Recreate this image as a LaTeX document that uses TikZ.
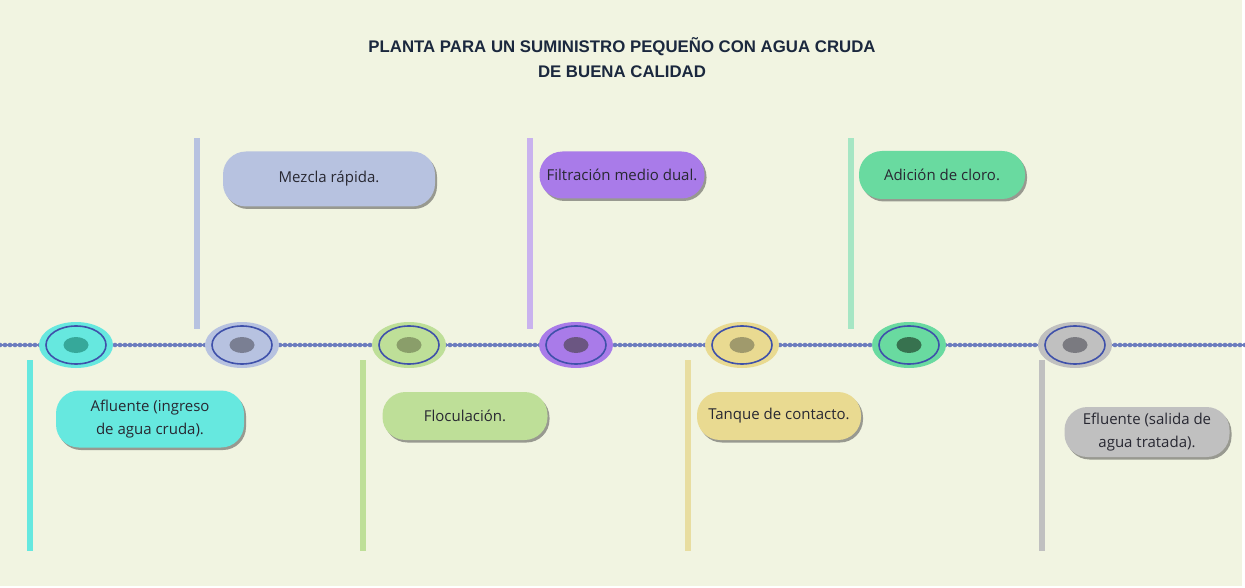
\documentclass[tikz,border=0pt]{standalone}
\usepackage{fontspec}
\setmainfont{Open Sans}
\newfontfamily\titlefont{Liberation Sans}
\usepackage{tikz}
\usetikzlibrary{shapes.geometric, shadows, backgrounds}
\usepackage{xcolor}
\definecolor{PageBg}{RGB}{241, 244, 225}
\definecolor{TitleNavy}{RGB}{27, 40, 62}
\definecolor{LineBlue}{RGB}{108, 124, 190}
\definecolor{RingBlue}{RGB}{63, 81, 170}
\definecolor{TextDark}{RGB}{40, 40, 50}
\definecolor{AfluenteFill}{RGB}{102, 232, 223}
\definecolor{AfluenteDot}{RGB}{54, 168, 154}
\definecolor{MezclaFill}{RGB}{183, 194, 224}
\definecolor{MezclaDot}{RGB}{122, 127, 147}
\definecolor{FloculFill}{RGB}{190, 223, 152}
\definecolor{FloculDot}{RGB}{138, 158, 106}
\definecolor{FiltroFill}{RGB}{169, 123, 233}
\definecolor{FiltroDot}{RGB}{107, 86, 130}
\definecolor{FiltroBar}{RGB}{201, 178, 238}
\definecolor{TanqueFill}{RGB}{233, 218, 145}
\definecolor{TanqueDot}{RGB}{160, 154, 108}
\definecolor{TanqueBar}{RGB}{232, 221, 160}
\definecolor{CloroFill}{RGB}{105, 218, 160}
\definecolor{CloroDot}{RGB}{55, 114, 79}
\definecolor{CloroBar}{RGB}{166, 230, 196}
\definecolor{EfluenteFill}{RGB}{192, 192, 192}
\definecolor{EfluenteDot}{RGB}{122, 122, 128}

\begin{document}
\begin{tikzpicture}[
    x=1pt, y=-1pt,
    box/.style={draw=none, rounded corners=23pt, fill=#1, align=center, inner xsep=2pt, minimum width=165pt, minimum height=48pt, text=TextDark, font=\fontsize{15}{23}\selectfont, drop shadow={shadow xshift=2pt, shadow yshift=-2.5pt, opacity=0.5, fill=black!75}},
    bar/.style={fill=#1, inner sep=0pt, minimum width=6pt, minimum height=191pt},
    stop/.style 2 args={ellipse, fill=#1, inner sep=0pt, minimum width=74pt, minimum height=46pt, path picture={
        \draw[RingBlue, line width=1.6pt] (path picture bounding box.center) ellipse (30pt and 19pt);
        \fill[#2] (path picture bounding box.center) ellipse (12.5pt and 8pt);}},
    beadline/.style={draw=LineBlue, line width=4.6pt, line cap=round, dash pattern=on 0pt off 5pt, preaction={draw=LineBlue, line width=1.4pt, solid}}
]
\useasboundingbox (0,0) rectangle (1245,588);
\fill[PageBg] (0,0) rectangle (1242,586);
\node[font=\titlefont\bfseries\fontsize{16.8}{25}\selectfont, text=TitleNavy, align=center] (title) at (622,58) {PLANTA PARA UN SUMINISTRO PEQUEÑO CON AGUA CRUDA\\DE BUENA CALIDAD};
% timeline
\coordinate (lineL) at (0,345);
\coordinate (lineR) at (1245,345);
\draw[beadline] (lineL) -- (lineR);
\node[stop={AfluenteFill}{AfluenteDot}] (s1) at (76,345) {};
\node[stop={MezclaFill}{MezclaDot}] (s2) at (242,345) {};
\node[stop={FloculFill}{FloculDot}] (s3) at (409,345) {};
\node[stop={FiltroFill}{FiltroDot}] (s4) at (576,345) {};
\node[stop={TanqueFill}{TanqueDot}] (s5) at (742,345) {};
\node[stop={CloroFill}{CloroDot}] (s6) at (909,345) {};
\node[stop={EfluenteFill}{EfluenteDot}] (s7) at (1075,345) {};
% bars
\node[bar=AfluenteFill, anchor=north] (bar1) at (30,360) {};
\node[bar=MezclaFill, anchor=south] (bar2) at (197,329) {};
\node[bar=FloculFill, anchor=north] (bar3) at (363,360) {};
\node[bar=FiltroBar, anchor=south] (bar4) at (530,329) {};
\node[bar=TanqueBar, anchor=north] (bar5) at (688,360) {};
\node[bar=CloroBar, anchor=south] (bar6) at (851,329) {};
\node[bar=EfluenteFill, anchor=north] (bar7) at (1042,360) {};
% labels
\node[box=AfluenteFill, minimum width=188pt, minimum height=57pt] (afluente) at (150,419) {Afluente (ingreso\\de agua cruda).};
\node[box=MezclaFill, minimum width=212pt, minimum height=55pt] (mezcla) at (329,179) {Mezcla rápida.};
\node[box=FloculFill] (floculacion) at (465,416) {Floculación.};
\node[box=FiltroFill, minimum height=47pt] (filtracion) at (622,175) {Filtración medio dual.};
\node[box=TanqueFill, minimum width=164pt] (tanque) at (779,416) {Tanque de contacto.};
\node[box=CloroFill, minimum width=166pt] (cloro) at (942,175) {Adición de cloro.};
\node[box=EfluenteFill, minimum height=50pt] (efluente) at (1147,432) {Efluente (salida de\\agua tratada).};
\end{tikzpicture}
\end{document}
